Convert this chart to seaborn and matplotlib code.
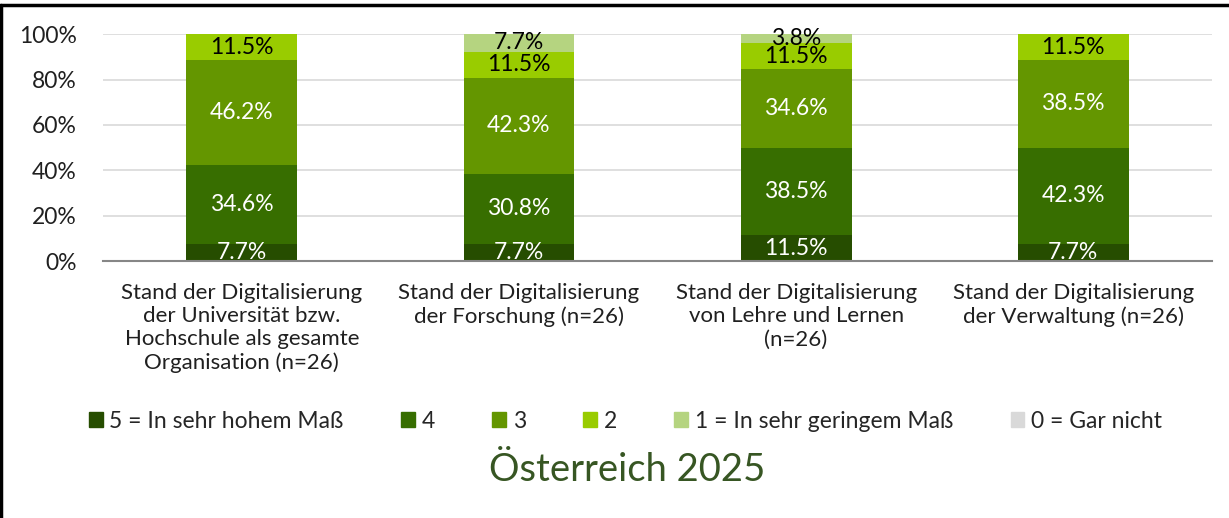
import matplotlib.pyplot as plt
import matplotlib.lines as mlines
import matplotlib.patches as mpatches
import pandas as pd
import seaborn as sns

# Categories (x axis) and stacked levels (bottom to top)
categories = [
    'Stand der Digitalisierung\nder Universität bzw.\nHochschule als gesamte\nOrganisation (n=26)',
    'Stand der Digitalisierung\nder Forschung (n=26)',
    'Stand der Digitalisierung\nvon Lehre und Lernen\n(n=26)',
    'Stand der Digitalisierung\nder Verwaltung (n=26)',
]
levels = ['5 = In sehr hohem Maß', '4', '3', '2', '1 = In sehr geringem Maß', '0 = Gar nicht']

# Shares in percent per level
lvl5 = [7.7, 7.7, 11.5, 7.7]
lvl4 = [34.6, 30.8, 38.5, 42.3]
lvl3 = [46.2, 42.3, 34.6, 38.5]
lvl2 = [11.5, 11.5, 11.5, 11.5]
lvl1 = [0.0, 7.7, 3.8, 0.0]
lvl0 = [0.0, 0.0, 0.0, 0.0]

colors = ['#264d00', '#376e00', '#649600', '#99cc00', '#b5d480', '#d9d9d9']
label_colors = ['white', 'white', 'white', 'black', 'black', 'black']

sns.set_theme(style='white')
plt.rcParams['font.family'] = ['Lato', 'DejaVu Sans']

df = pd.DataFrame([lvl5, lvl4, lvl3, lvl2, lvl1, lvl0], index=levels, columns=categories).T / 100
cum = df.cumsum(axis=1)

fig = plt.figure(figsize=(12.29, 5.18), dpi=100)
ax = fig.add_axes([0.084, 0.496, 0.902, 0.438])

# Draw cumulative bars from the top level down so lower levels cover them
for i in reversed(range(len(levels))):
    sns.barplot(x=list(range(len(categories))), y=cum.iloc[:, i].values,
                color=colors[i], width=0.4, saturation=1, ax=ax,
                edgecolor='none', linewidth=0, zorder=2)

# Segment labels
for i, lvl in enumerate(levels):
    for j in range(len(categories)):
        v = df.iloc[j, i]
        if v <= 0:
            continue
        ax.text(j, cum.iloc[j, i] - v / 2, f'{v * 100:.1f}%', ha='center', va='center',
                fontsize=16.5, color=label_colors[i], zorder=3)

ax.set_ylim(0, 1)
ax.set_xlim(-0.5, len(categories) - 0.5)
ax.set_yticks([0, 0.2, 0.4, 0.6, 0.8, 1.0])
ax.set_yticklabels(['0%', '20%', '40%', '60%', '80%', '100%'], fontsize=16.5, color='#202020')
ax.set_xticks(range(len(categories)))
ax.set_xticklabels(categories, fontsize=16, color='#202020', linespacing=1.19)
ax.tick_params(axis='x', length=0, pad=16)
ax.tick_params(axis='y', length=0, pad=19)
ax.yaxis.grid(True, color='#d9d9d9', linewidth=1.2, zorder=0)
ax.set_axisbelow(True)
for s in ['top', 'right', 'left']:
    ax.spines[s].set_visible(False)
ax.spines['bottom'].set_color('#868686')
ax.spines['bottom'].set_linewidth(1.5)
ax.set_xlabel('')
ax.set_ylabel('')

handles = [mpatches.Patch(color=c, label=l) for c, l in zip(colors, levels)]
fig.legend(handles=handles, loc='center', bbox_to_anchor=(0.509, 0.187), ncol=6,
           frameon=False, fontsize=16.5, handlelength=0.6, handleheight=0.6,
           handletextpad=0.3, columnspacing=2.5)

fig.text(0.51, 0.092, 'Österreich 2025', ha='center', va='center', fontsize=27.5, color='#375623')

# Frame lines on left and top edge
fig.add_artist(mlines.Line2D([0.001, 0.001], [0, 0.99], color='black', linewidth=2.5))
fig.add_artist(mlines.Line2D([0, 1], [0.99, 0.99], color='black', linewidth=2.5))

fig.savefig('out.png', dpi=100)
